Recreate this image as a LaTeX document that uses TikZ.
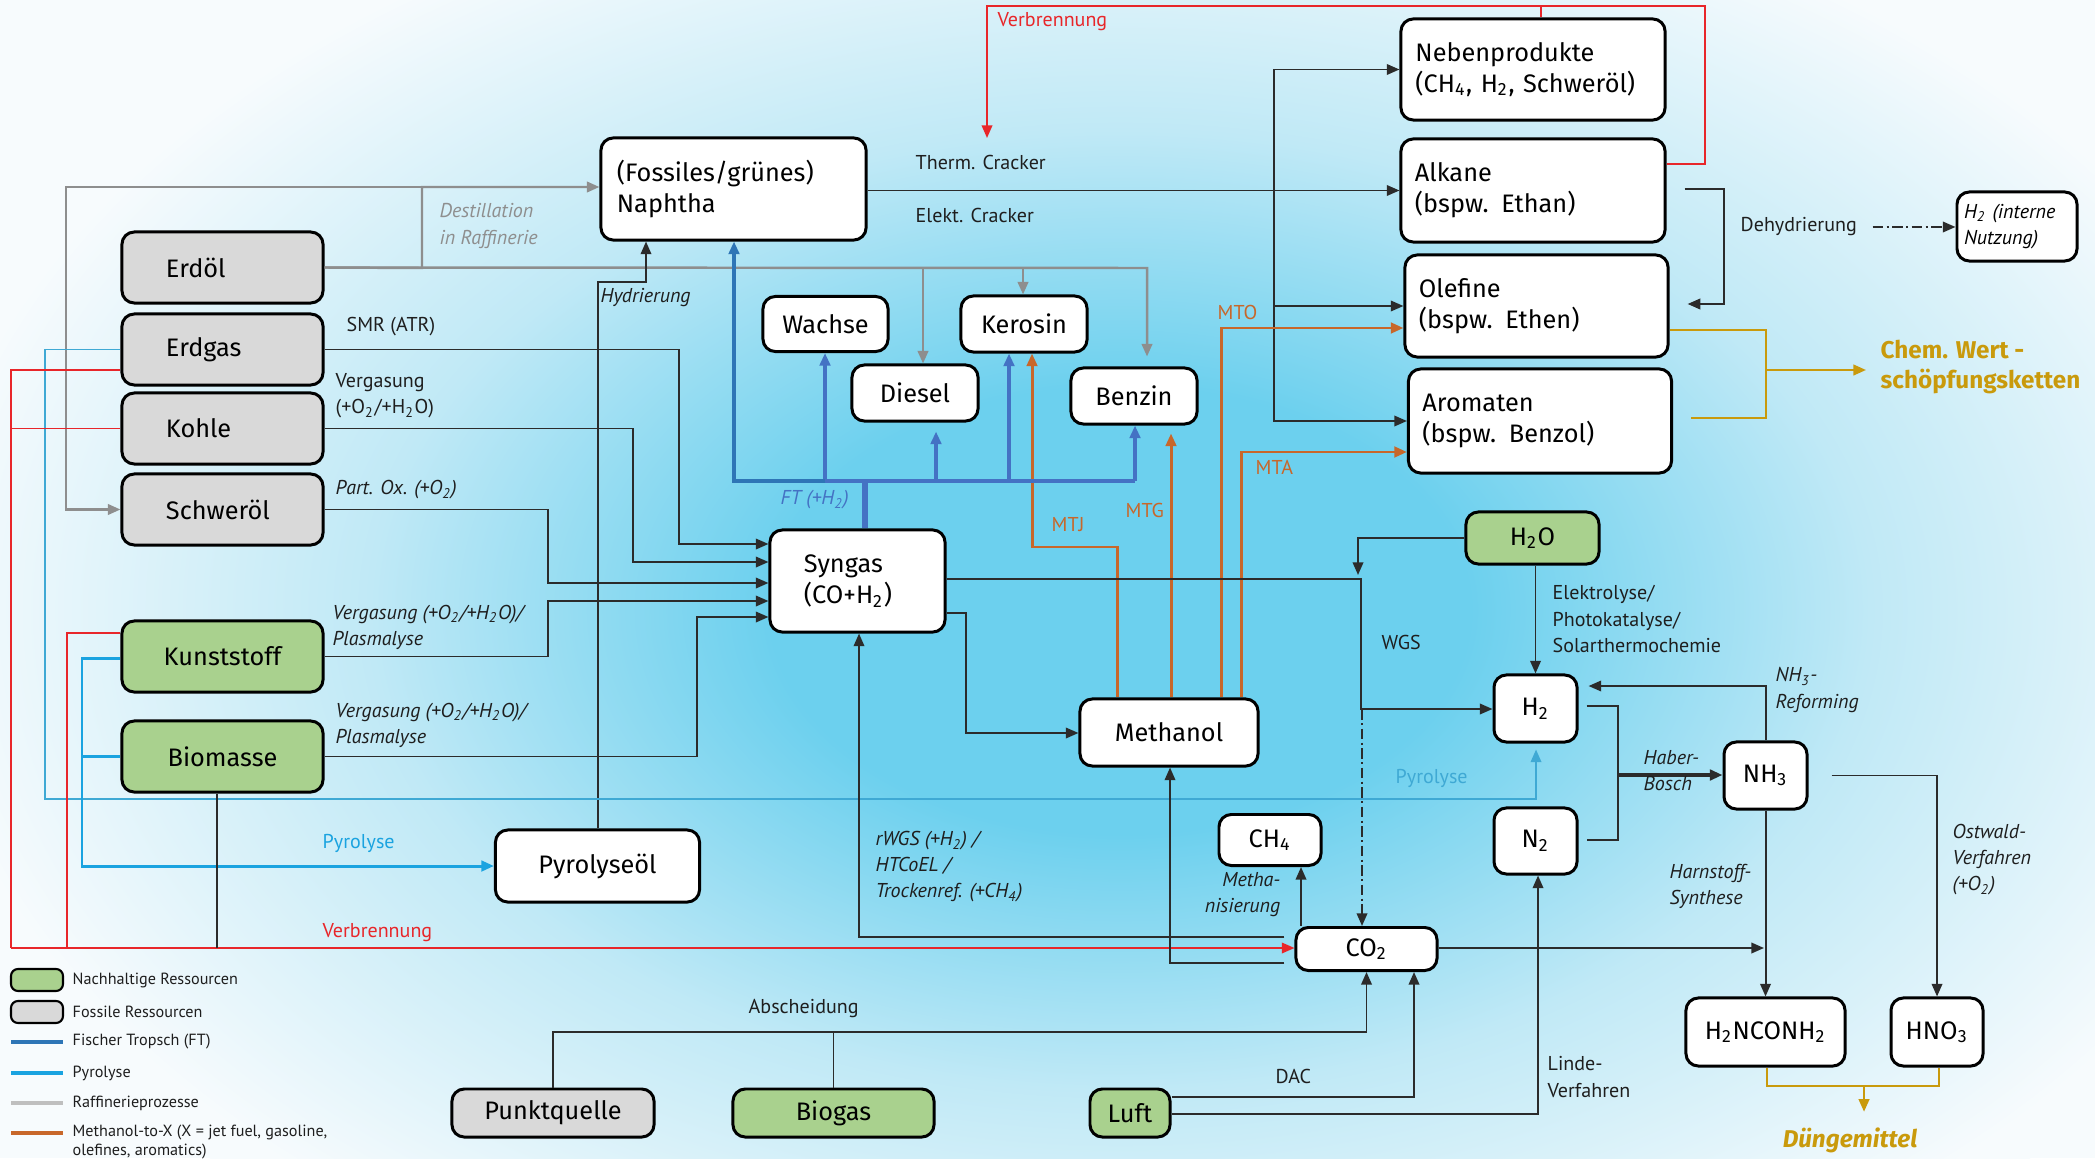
\documentclass[tikz,border=0pt]{standalone}
\usepackage{fontspec}
\setmainfont{Fira Sans}
\newfontfamily\lblfam{PT Sans}
\usetikzlibrary{arrows.meta}

\definecolor{bgwhite}{HTML}{F7FBFD}
\definecolor{bgpale}{HTML}{C0E9F6}
\definecolor{bgcyan}{HTML}{6CD0EE}
\definecolor{fossil}{HTML}{D9D9D9}
\definecolor{resgreen}{HTML}{A9D18E}
\definecolor{lncol}{HTML}{2B2B2B}
\definecolor{txtcol}{HTML}{1E1E1E}
\definecolor{rafgray}{HTML}{8E8E8E}
\definecolor{raflight}{HTML}{BFBFBF}
\definecolor{ftblue}{HTML}{4472C4}
\definecolor{ftdark}{HTML}{2E75B6}
\definecolor{mtxorange}{HTML}{C8672A}
\definecolor{pyroblue}{HTML}{1AA3E0}
\definecolor{pyrolight}{HTML}{3FA9D4}
\definecolor{burnred}{HTML}{E8262A}
\definecolor{goldcol}{HTML}{C99A0C}

\pgfdeclareradialshading{bgglow}{\pgfpoint{0bp}{0bp}}{color(0bp)=(bgcyan); color(7bp)=(bgcyan); color(15bp)=(bgpale); color(24bp)=(bgwhite); color(50bp)=(bgwhite)}

\newcommand\chsub[1]{\textsubscript{#1}}
\newcommand\boxfont{\fontsize{7.2}{8.8}\selectfont}
\newcommand\lblsize{\fontsize{5.7}{7.4}\selectfont}

\tikzset{
  box/.style={draw=black, line width=0.85pt, rounded corners=3.5pt, fill=white, inner sep=0pt, align=center, font=\boxfont},
  sz/.style 2 args={minimum width=#1, minimum height=#2},
  fossilbox/.style={box, fill=fossil, sz={2.01cm}{0.71cm}, text width=1.13cm, align=left},
  greenbox/.style={box, fill=resgreen},
  chainbox/.style={box, align=left},
  ln/.style={draw=lncol, line width=0.55pt},
  raf/.style={draw=rafgray, line width=0.7pt},
  ft/.style={draw=ftblue, line width=0.9pt},
  mtx/.style={draw=mtxorange, line width=0.85pt},
  pyro/.style={draw=pyroblue, line width=0.85pt},
  pyrolt/.style={draw=pyrolight, line width=0.55pt},
  burn/.style={draw=burnred, line width=0.55pt},
  goldln/.style={draw=goldcol, line width=0.7pt},
  lbl/.style={font=\lblsize\lblfam, text=txtcol, inner sep=0pt, align=left, anchor=west},
  ilbl/.style={lbl, font=\lblsize\lblfam\itshape},
  goldtxt/.style={font=\fontsize{6.9}{8.6}\selectfont\bfseries, text=goldcol, inner sep=0pt, align=left, anchor=west},
  legtxt/.style={font=\fontsize{4.6}{5.4}\selectfont\lblfam, text=txtcol, inner sep=0pt, align=left, anchor=west}
}

\begin{document}
\begin{tikzpicture}[x=0.01cm, y=-0.01cm, >={Triangle[length=3.6pt,width=3pt]}]

  % background
  \useasboundingbox (0,0) rectangle (2095,1158);
  \begin{scope}
    \clip (0,0) rectangle (2095,1158);
    \fill[bgwhite] (0,0) rectangle (2095,1158);
    \shade[shading=bgglow] (1120,610) ellipse (1250 and 800);
  \end{scope}

  % resources
  \node[fossilbox] (erdoel) at (222.5,267.5) {Erdöl};
  \node[fossilbox] (erdgas) at (222.5,349.5) {Erdgas};
  \node[fossilbox] (kohle) at (222.5,428.5) {Kohle};
  \node[fossilbox] (schweroel) at (222.5,509.5) {Schweröl};
  \node[greenbox, sz={2.01cm}{0.71cm}] (kunststoff) at (222.5,656.5) {Kunststoff};
  \node[greenbox, sz={2.01cm}{0.71cm}] (biomasse) at (222.5,756.5) {Biomasse};

  % intermediates and products
  \node[chainbox, sz={2.65cm}{1.02cm}, text width=2.33cm] (naph) at (733.5,189) {(Fossiles/grünes)\\Naphtha};
  \node[box, sz={1.25cm}{0.55cm}] (wachse) at (825.5,324) {Wachse};
  \node[box, sz={1.26cm}{0.56cm}] (kerosin) at (1024,324) {Kerosin};
  \node[box, sz={1.26cm}{0.56cm}] (diesel) at (915,393) {Diesel};
  \node[box, sz={1.26cm}{0.56cm}] (benzin) at (1134,396) {Benzin};
  \node[chainbox, sz={1.75cm}{1.02cm}, text width=1.07cm] (syngas) at (857.5,581) {Syngas\\(CO+H\chsub{2})};
  \node[box, sz={1.78cm}{0.67cm}] (methanol) at (1169,732.5) {Methanol};
  \node[chainbox, sz={2.64cm}{1.01cm}, text width=2.35cm] (neben) at (1533,69.5) {Nebenprodukte\\(CH\chsub{4}, H\chsub{2}, Schweröl)};
  \node[chainbox, sz={2.64cm}{1.03cm}, text width=2.36cm] (alkane) at (1533,190.5) {Alkane\\(bspw. Ethan)};
  \node[chainbox, sz={2.63cm}{1.02cm}, text width=2.35cm] (olefine) at (1536.5,306) {Olefine\\(bspw. Ethen)};
  \node[chainbox, sz={2.63cm}{1.04cm}, text width=2.35cm] (aromaten) at (1540,421) {Aromaten\\(bspw. Benzol)};
  \node[chainbox, sz={1.2cm}{0.69cm}, text width=1.06cm, font=\lblsize\lblfam\itshape] (h2int) at (2017,226.5) {H\chsub{2} (interne\\Nutzung)};
  \node[greenbox, sz={1.33cm}{0.52cm}] (h2o) at (1532.5,538) {H\chsub{2}O};
  \node[box, sz={0.83cm}{0.67cm}] (h2) at (1535.5,708.5) {H\chsub{2}};
  \node[box, sz={0.83cm}{0.67cm}] (nh3) at (1765.5,775.5) {NH\chsub{3}};
  \node[box, sz={0.83cm}{0.66cm}] (n2) at (1535.5,841) {N\chsub{2}};
  \node[box, sz={1.02cm}{0.51cm}] (ch4) at (1270,840) {CH\chsub{4}};
  \node[box, sz={1.41cm}{0.43cm}] (co2) at (1366.5,949) {CO\chsub{2}};
  \node[box, sz={1.59cm}{0.68cm}] (urea) at (1765.5,1032) {H\chsub{2}NCONH\chsub{2}};
  \node[box, sz={0.92cm}{0.68cm}] (hno3) at (1937,1032) {HNO\chsub{3}};
  \node[box, sz={2.04cm}{0.72cm}] (pyroil) at (597.5,866) {Pyrolyseöl};
  \node[box, fill=fossil, sz={2.02cm}{0.48cm}] (punkt) at (553,1113) {Punktquelle};
  \node[greenbox, sz={2.01cm}{0.48cm}] (biogas) at (833.5,1113) {Biogas};
  \node[greenbox, sz={0.8cm}{0.48cm}] (luft) at (1130,1113) {Luft};
  \coordinate (crack) at (987,138);

  % refinery
  \draw[raf,->] (erdoel.east) -- (422,268) |- (naph.west |- 0,187);
  \draw[raf,->] (422,187) -- (66,187) |- (schweroel.west);
  \draw[raf,->,shorten >=1mm] (erdoel.east) -- (1147,268) -- (benzin.north -| 1147,0);
  \draw[raf,->] (923,268) -- (diesel.north -| 923,0);
  \draw[raf,->] (1023,268) -- (kerosin.north -| 1023,0);
  \node[ilbl, text=rafgray] (destill) at (439,226) {Destillation\\in Raffinerie};

  % cracker
  \draw[ln,->] (naph.east |- alkane.west) -- (alkane.west);
  \draw[ln,->] (1274,190) |- (neben.west);
  \draw[ln,->] (1274,190) |- (olefine.west);
  \draw[ln,->] (1274,190) |- (aromaten.west);
  \node[lbl] (therm) at (915,162) {Therm. Cracker};
  \node[lbl] (elekt) at (915,215) {Elekt. Cracker};
  \draw[burn,->] (alkane.east |- 0,164) -- (1705,164) -- (1705,6) -- (987,6) -- (crack);
  \draw[burn] (neben.north -| 1541,0) -- (1541,6);
  \node[lbl, text=burnred] (verbtop) at (997,22) {Verbrennung};

  % dehydrogenation
  \draw[ln,->,shorten <=1.8mm,shorten >=1.8mm] (alkane.east |- 0,189) -| (1724,304) -- (olefine.east |- 0,304);
  \node[lbl] (dehyd) at (1740,227) {Dehydrierung};
  \draw[ln,densely dash dot,->] ([xshift=1.5mm]dehyd.east) -- (h2int.west |- dehyd.east);

  % value chains
  \draw[goldln] (olefine.east |- 0,330) -| (1766,418) -- ([xshift=1.8mm]aromaten.east |- 0,418);
  \node[goldtxt] (chem) at (1880,367) {Chem. Wert -\\schöpfungsketten};
  \draw[goldln,->] (1766,370) -- ([xshift=-1.4mm]chem.west |- 0,370);

  % methanol-to-x
  \draw[mtx,->] (methanol.north -| 1117,0) |- (1032,547) -- (kerosin.south -| 1032,0);
  \draw[mtx,->,shorten >=0.8mm] (methanol.north -| 1171,0) -- (benzin.south -| 1171,0);
  \draw[mtx,->] (methanol.north -| 1221,0) |- (olefine.west |- 0,328);
  \draw[mtx,->] (methanol.north -| 1241,0) |- (aromaten.west |- 0,452);
  \node[lbl, text=mtxorange] (mtj) at (1051,525) {MTJ};
  \node[lbl, text=mtxorange] (mtg) at (1125,510) {MTG};
  \node[lbl, text=mtxorange] (mto) at (1217,312) {MTO};
  \node[lbl, text=mtxorange] (mta) at (1255,467) {MTA};

  % fischer tropsch
  \draw[ft, line width=1.5pt] (syngas.north -| 865,0) -- (865,481);
  \draw[ft, line width=1.2pt] (825,481) -- (1135,481);
  \draw[ft,->] (825,481) -- (wachse.south -| 825,0);
  \draw[ft,->,shorten >=0.9mm] (936,481) -- (diesel.south -| 936,0);
  \draw[ft,->] (1009,481) -- (kerosin.south -| 1009,0);
  \draw[ft,->] (1135,481) -- (benzin.south -| 1135,0);
  \draw[ft, draw=ftdark,->] (825,481) -- (734,481) -- (naph.south -| 734,0);
  \node[ilbl, text=ftblue] (ftlbl) at (780,500) {FT (+H\chsub{2})};

  % hydrogenation of pyrolysis oil
  \draw[ln,->] (pyroil.north -| 598,0) |- (646,282) -- (naph.south -| 646,0);
  \node[ilbl] (hydr) at (600,298) {Hydrierung};

  % syngas routes
  \draw[ln,->] (erdgas.east) -| (679,544) -- (syngas.west |- 0,544);
  \draw[ln,->] (kohle.east) -| (633,562) -- (syngas.west |- 0,562);
  \draw[ln,->] (schweroel.east) -| (548,583) -- (syngas.west |- 0,583);
  \draw[ln,->] (kunststoff.east) -| (548,601) -- (syngas.west |- 0,601);
  \draw[ln,->] (biomasse.east) -| (697,617) -- (syngas.west |- 0,617);
  \node[lbl] (smr) at (346,327) {SMR (ATR)};
  \node[lbl] (verg1) at (335,396) {Vergasung\\(+O\chsub{2}/+H\chsub{2}O)};
  \node[ilbl] (partox) at (335,490) {Part. Ox. (+O\chsub{2})};
  \node[ilbl] (verg2) at (332,627) {Vergasung (+O\chsub{2}/+H\chsub{2}O)/\\Plasmalyse};
  \node[ilbl] (verg3) at (335,725) {Vergasung (+O\chsub{2}/+H\chsub{2}O)/\\Plasmalyse};

  % syngas to hydrogen and methanol
  \draw[ln,->] (syngas.east |- 0,579) -| (1361,709) -- (h2.west |- 0,709);
  \draw[ln,->] (h2o.west) -| (1358,575);
  \draw[ln,densely dash dot,->] (1362,709) -- (co2.north -| 1362,0);
  \draw[ln,->] (syngas.east |- 0,613) -| (966,733) -- (methanol.west |- 0,733);
  \node[lbl] (wgs) at (1381,642) {WGS};
  \draw[ln,->] (h2o.south -| h2.north) -- (h2.north);
  \node[lbl] (elyse) at (1552,619) {Elektrolyse/\\Photokatalyse/\\Solarthermochemie};

  % ammonia
  \draw[ln,shorten <=0.8mm,shorten >=0.8mm] (h2.east |- 0,706) -| (1618,840) -- (n2.east |- 0,840);
  \draw[ln, line width=1.1pt,->] (1618,775) -- (nh3.west |- 0,775);
  \node[ilbl] (haber) at (1643,771) {Haber-\\Bosch};
  \draw[ln,->,shorten >=1mm] (nh3.north) |- (h2.east |- 0,686);
  \node[ilbl] (reform) at (1775,690) {NH\chsub{3}-\\Reforming};
  \draw[ln,->] (nh3.south) -- (urea.north);
  \node[ilbl] (harn) at (1669,886) {Harnstoff-\\Synthese};
  \draw[ln,->,shorten <=2.3mm] (nh3.east) -| (hno3.north);
  \node[ilbl] (ostw) at (1952,860) {Ostwald-\\Verfahren\\(+O\chsub{2})};
  \draw[goldln] (urea.south -| 1767,0) |- (1939,1086) -- (hno3.south -| 1939,0);
  \node[goldtxt, font=\fontsize{6.9}{8.6}\selectfont\bfseries\itshape, anchor=center] (duenger) at (1850,1140) {Düngemittel};
  \draw[goldln,->] (1864,1086) -- ([yshift=1.5mm]duenger.north -| 1864,0);

  % pyrolysis
  \draw[pyrolt,->,shorten >=0.6mm] (erdgas.west) -| (45,799) -- (1536,799) -- (h2.south -| 1536,0);
  \node[lbl, text=pyrolight] (pyro2lbl) at (1395,778) {Pyrolyse};
  \draw[pyro,->] (kunststoff.west |- 0,658) -| (82,866) -- (pyroil.west |- 0,866);
  \draw[pyro] (biomasse.west) -- (82,756.5);
  \node[lbl, text=pyroblue] (pyrolbl) at (322,843) {Pyrolyse};

  % combustion
  \draw[burn] (erdgas.west |- 0,370) -| (11,948);
  \draw[burn] (kohle.west) -- (11,428.5);
  \draw[burn] (kunststoff.west |- 0,633) -| (67,948);
  \draw[burn,->] (11,948) -- (co2.west |- 0,948);
  \draw[ln] (biomasse.south -| 217,0) -- (217,948);
  \node[lbl, text=burnred] (verbbot) at (322,933) {Verbrennung};

  % co2 routes
  \draw[ln,->,shorten <=1mm] (co2.west |- 0,937) -| (syngas.south -| 859,0);
  \node[ilbl] (rwgs) at (875,867) {rWGS (+H\chsub{2}) /\\HTCoEL /\\Trockenref. (+CH\chsub{4})};
  \draw[ln,->,shorten <=1mm] (co2.west |- 0,963) -| (methanol.south -| 1170,0);
  \draw[ln,->] (co2.north -| 1301,0) -- (ch4.south -| 1301,0);
  \node[ilbl, anchor=east, align=right] (methan) at (1281,895) {Metha-\\nisierung};
  \draw[ln,->] (co2.east |- 0,948) -- (1764,948);

  % co2 and n2 sources
  \draw[ln,->] (punkt.north) |- (co2.south |- 0,1032) -- (co2.south);
  \draw[ln] (biogas.north) -- (biogas.north |- 0,1032);
  \node[lbl] (absch) at (748,1008) {Abscheidung};
  \draw[ln,->] (luft.east |- 0,1097) -| (co2.south -| 1414,0);
  \node[lbl] (dac) at (1275,1076) {DAC};
  \draw[ln,->] (luft.east |- 0,1114) -| (n2.south -| 1538,0);
  \node[lbl] (linde) at (1547,1077) {Linde-\\Verfahren};

  % legend
  \node[box, fill=resgreen, sz={0.52cm}{0.22cm}, line width=0.6pt, rounded corners=2pt] (leggreen) at (37,980) {};
  \node[legtxt] (leggreentxt) at (72,980) {Nachhaltige Ressourcen};
  \node[box, fill=fossil, sz={0.52cm}{0.22cm}, line width=0.6pt, rounded corners=2pt] (leggray) at (37,1012) {};
  \node[legtxt] (leggraytxt) at (72,1012) {Fossile Ressourcen};
  \foreach \yy/\cc/\lab in {1042/ftdark/Fischer Tropsch (FT), 1073/pyroblue/Pyrolyse, 1103/raflight/Raffinerieprozesse}{
    \draw[line width=1.2pt, draw=\cc] (11,\yy) -- (63,\yy);
    \node[legtxt] (leg\yy) at (72,\yy) {\lab};
  }
  \draw[line width=1.2pt, draw=mtxorange] (11,1133) -- (63,1133);
  \node[legtxt] (legmtx) at (72,1142.5) {Methanol-to-X (X = jet fuel, gasoline,\\olefines, aromatics)};

\end{tikzpicture}
\end{document}
